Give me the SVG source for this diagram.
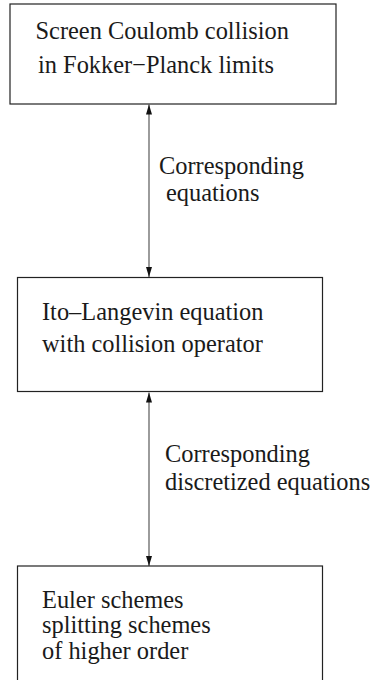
<svg xmlns="http://www.w3.org/2000/svg" width="376" height="680" viewBox="0 0 376 680">
<style>
.box{fill:#fff;stroke:#222;stroke-width:1.2}
.t{font-family:"Liberation Serif","Times New Roman",serif;font-size:24.4px;fill:#1a1a1a}
.c{stroke:#666;stroke-width:1.3;fill:none}
</style>
<defs>
<marker id="ah" viewBox="0 0 10 6" refX="10" refY="3" markerWidth="10" markerHeight="6" markerUnits="userSpaceOnUse" orient="auto-start-reverse">
<path d="M0,0 L10,3 L0,6 Z" fill="#111"/>
</marker>
</defs>
<rect width="376" height="680" fill="#fff"/>
<g id="connectors">
<line class="c" x1="149" y1="104.5" x2="149" y2="277" marker-start="url(#ah)" marker-end="url(#ah)"/>
<line class="c" x1="149" y1="392.5" x2="149" y2="566" marker-start="url(#ah)" marker-end="url(#ah)"/>
<text class="t" x="159" y="173.5">Corresponding</text>
<text class="t" x="166" y="201">equations</text>
<text class="t" x="165" y="461.5">Corresponding</text>
<text class="t" x="165" y="490">discretized equations</text>
</g>
<g id="node1">
<rect class="box" x="10" y="4" width="326" height="100"/>
<text class="t" x="35.5" y="39">Screen Coulomb collision</text>
<text class="t" x="38" y="73">in Fokker−Planck limits</text>
</g>
<g id="node2">
<rect class="box" x="17.5" y="277.5" width="305" height="114"/>
<text class="t" x="42" y="319.5">Ito–Langevin equation</text>
<text class="t" x="42" y="351.5">with collision operator</text>
</g>
<g id="node3">
<rect class="box" x="17.5" y="566" width="305" height="130"/>
<text class="t" x="42" y="607.5">Euler schemes</text>
<text class="t" x="42" y="633">splitting schemes</text>
<text class="t" x="42" y="658.5">of higher order</text>
</g>
</svg>
